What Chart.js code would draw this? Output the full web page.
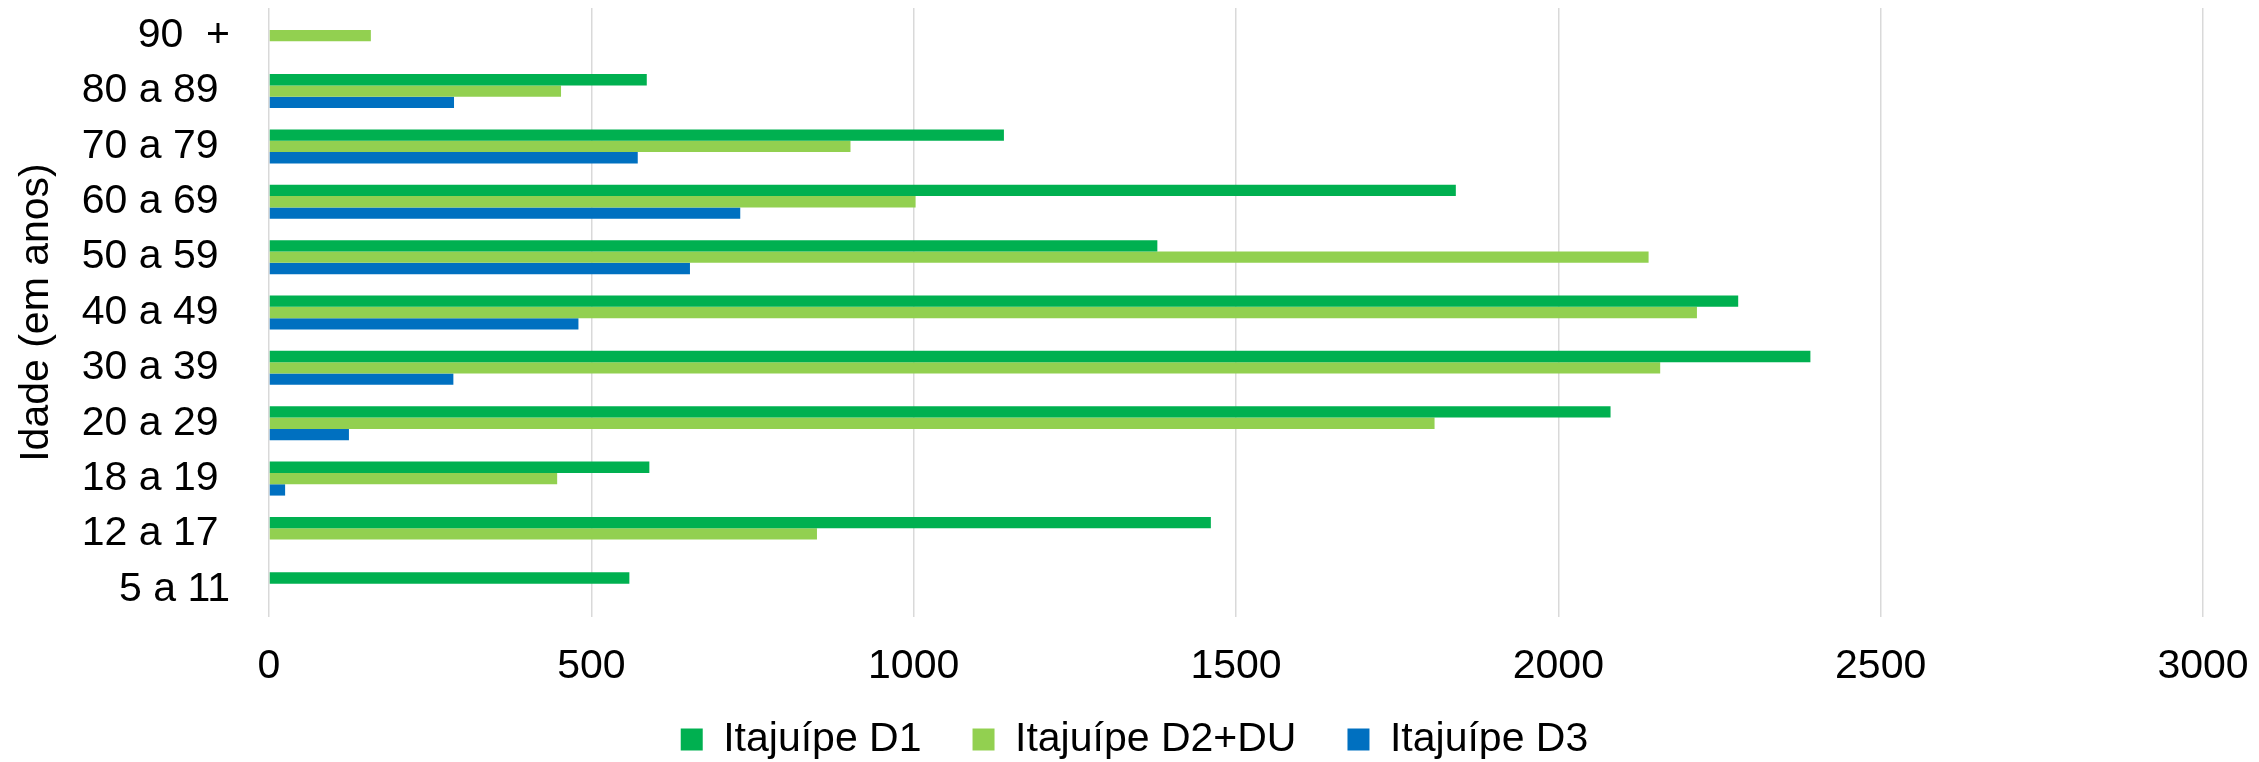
<!DOCTYPE html>
<html>
<head>
<meta charset="utf-8">
<script src="https://cdn.jsdelivr.net/npm/chart.js@4/dist/chart.umd.min.js"></script>
<style>
  body { margin: 0; background: #fff; }
  #wrap { width: 2259px; height: 762px; }
</style>
</head>
<body>
<div id="wrap"><canvas id="myChart"></canvas></div>
<script>
// age groups, top to bottom
const ageLabels = ["90  +", "80 a 89 ", "70 a 79 ", "60 a 69 ", "50 a 59 ", "40 a 49 ",
    "30 a 39 ", "20 a 29 ", "18 a 19 ", "12 a 17 ", "5 a 11"];

const seriesNames = ["Itajuípe D1", "Itajuípe D2+DU", "Itajuípe D3"];

const d1Values = [null, 586, 1140, 1841, 1378, 2279, 2391, 2081, 590, 1461, 559];
const d2Values = [158, 453, 902, 1003, 2140, 2215, 2158, 1808, 447, 850, null];
const d3Values = [null, 287, 572, 731, 653, 480, 286, 124, 25, null, null];

const xMin = 0;
const xMax = 3000;
const xStep = 500;

const COLORS = {
    d1: "#00B050",
    d2: "#92D050",
    d3: "#0070C0",
    grid: "#d9d9d9",
    text: "#000000"
};

const font = {
    family: "'Liberation Sans', Arial, sans-serif",
    size: 41
};

// legend padding is shared by x and y, so pull the row up a bit after layout
const legendShift = {
    id: "legendShift",
    afterLayout(chart) {
        chart.legend.top -= 15;
        chart.legend.bottom -= 15;
    }
};

const data = {
    labels: ageLabels,
    datasets: [{
        label: seriesNames[0],
        data: d1Values,
        backgroundColor: COLORS.d1
    }, {
        label: seriesNames[1],
        data: d2Values,
        backgroundColor: COLORS.d2
    }, {
        label: seriesNames[2],
        data: d3Values,
        backgroundColor: COLORS.d3
    }]
};

const config = {
    type: "bar",
    data,
    plugins: [legendShift],
    options: {
        indexAxis: "y",
        responsive: true,
        maintainAspectRatio: false,
        animation: false,
        categoryPercentage: 0.614,
        barPercentage: 1.0,
        layout: {
            padding: { left: 66, right: 56, top: 8, bottom: -23 }
        },
        plugins: {
            legend: {
                position: "bottom",
                labels: {
                    boxWidth: 22,
                    boxHeight: 22,
                    padding: 51,
                    color: COLORS.text,
                    font
                }
            },
            tooltip: { enabled: false }
        },
        scales: {
            x: {
                min: xMin,
                max: xMax,
                ticks: {
                    stepSize: xStep,
                    padding: 25,
                    color: COLORS.text,
                    font,
                    callback: (value) => String(value) // no thousands separator
                },
                grid: {
                    color: COLORS.grid,
                    lineWidth: 1.5,
                    drawTicks: false
                },
                border: { display: false },
                afterFit(scale) {
                    scale.height = 66;
                    scale.paddingLeft = 0;
                    scale.paddingRight = 0;
                }
            },
            y: {
                ticks: {
                    padding: 39,
                    color: COLORS.text,
                    font
                },
                grid: { display: false, drawTicks: false },
                border: { display: false },
                title: {
                    display: true,
                    text: "Idade (em anos)",
                    color: COLORS.text,
                    font,
                    padding: { top: -54, bottom: 0 }
                },
                afterFit(scale) {
                    scale.width = 203;
                    scale.paddingTop = 0;
                    scale.paddingBottom = 0;
                }
            }
        }
    }
};

const ctx = document.getElementById("myChart");
const myChart = new Chart(ctx, config);
</script>
</body>
</html>
